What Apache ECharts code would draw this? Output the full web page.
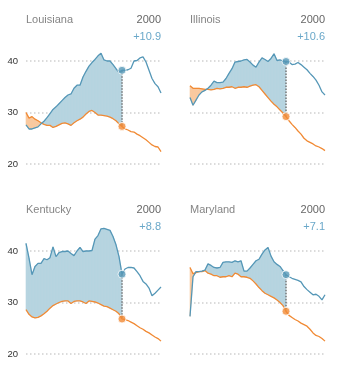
<!DOCTYPE html>
<html>
<head>
<meta charset="utf-8">
<script src="https://cdn.jsdelivr.net/npm/echarts@6/dist/echarts.min.js"></script>
<style>
html,body{margin:0;padding:0;background:#fff;}
#chart{width:346px;height:365px;}
</style>
</head>
<body>
<div id="chart"></div>
<script>
// ---- data ----
const years = [];
for (let y = 1968; y <= 2013; y++) years.push(y);
const markYear = 2000;

const states = ['Louisiana', 'Illinois', 'Kentucky', 'Maryland'];
const diffLabels = ['+10.9', '+10.6', '+8.8', '+7.1'];
const yTicks = [20, 30, 40];

const louisianaBlue = [27.6, 26.8, 26.8, 27.0, 27.2, 27.8, 28.3, 29.0, 29.8, 30.6, 31.1, 31.7, 32.3, 32.9, 33.4, 33.6, 34.7, 35.3, 35.3, 36.9, 38.0, 39.0, 39.7, 40.3, 41.0, 41.5, 40.2, 40.0, 40.0, 39.3, 38.5, 37.8, 38.2,
  38.2, 38.3, 38.6, 40.0, 40.1, 40.6, 40.8, 39.8, 38.2, 36.6, 35.6, 35.0, 33.8];
const louisianaOrange = [30.0, 28.9, 29.2, 28.7, 28.4, 28.0, 27.7, 27.5, 27.5, 27.1, 27.3, 27.6, 27.9, 28.0, 27.8, 27.5, 28.0, 28.4, 28.7, 29.1, 29.7, 30.2, 30.4, 30.0, 29.5, 29.5, 29.4, 29.3, 29.1, 28.8, 28.4, 27.8, 27.3,
  26.8, 26.6, 26.3, 26.2, 25.8, 25.5, 25.1, 24.7, 24.2, 23.7, 23.4, 23.3, 22.4];

const illinoisBlue = [32.9, 31.4, 32.4, 33.4, 34.0, 34.3, 34.7, 35.3, 36.1, 35.8, 35.8, 35.9, 36.6, 37.6, 38.5, 39.8, 39.9, 40.0, 40.2, 40.3, 39.8, 39.2, 38.8, 39.8, 40.6, 40.3, 39.9, 40.5, 41.4, 40.1, 40.2, 40.0, 39.9,
  39.8, 39.3, 39.4, 39.7, 39.3, 38.8, 38.3, 37.6, 37.0, 36.3, 35.3, 34.0, 33.4];
const illinoisOrange = [35.2, 34.7, 34.7, 34.7, 34.6, 34.5, 34.5, 34.4, 34.5, 34.7, 34.6, 34.7, 34.9, 34.9, 35.0, 34.7, 34.9, 34.9, 35.0, 34.9, 35.1, 35.3, 35.4, 35.0, 34.3, 33.6, 32.9, 32.2, 31.6, 31.1, 30.5, 29.9, 29.2,
  28.4, 27.7, 27.1, 26.4, 25.8, 25.0, 24.5, 24.2, 23.9, 23.5, 23.3, 23.0, 22.6];

const kentuckyBlue = [41.5, 38.6, 35.4, 37.0, 37.6, 37.6, 38.5, 38.3, 38.7, 40.8, 38.9, 39.7, 39.9, 39.9, 40.0, 39.5, 39.1, 40.0, 40.7, 39.9, 40.0, 40.0, 40.1, 42.3, 43.0, 44.3, 44.4, 44.2, 44.0, 42.8, 41.2, 38.9, 35.5,
  36.5, 36.8, 36.8, 36.7, 36.0, 35.2, 34.1, 33.6, 32.8, 31.3, 31.8, 32.4, 33.0];
const kentuckyOrange = [28.6, 27.7, 27.2, 27.0, 27.1, 27.4, 27.8, 28.3, 28.9, 29.4, 29.7, 30.0, 30.2, 30.3, 30.3, 29.8, 30.2, 30.3, 30.3, 30.1, 29.8, 30.3, 30.2, 30.1, 29.9, 29.6, 29.3, 29.2, 28.9, 28.6, 28.3, 27.8, 26.8,
  26.7, 26.5, 26.2, 25.9, 25.5, 25.1, 24.8, 24.4, 24.1, 23.7, 23.3, 23.0, 22.5];

const marylandBlue = [27.3, 35.0, 36.0, 36.0, 36.1, 36.3, 37.5, 37.2, 36.8, 36.7, 36.8, 37.8, 37.9, 37.9, 37.8, 38.1, 37.9, 38.1, 36.1, 36.1, 36.7, 37.4, 38.1, 38.4, 39.4, 40.2, 40.7, 39.0, 37.9, 37.4, 37.0, 36.2, 35.4,
  35.0, 34.7, 34.5, 34.3, 34.0, 33.1, 32.5, 32.0, 31.5, 31.6, 31.2, 30.5, 31.5];
const marylandOrange = [36.8, 35.6, 35.8, 36.0, 36.0, 36.2, 35.7, 35.5, 35.2, 35.2, 34.9, 35.0, 35.0, 35.2, 35.0, 35.7, 35.5, 35.0, 35.0, 34.9, 34.7, 34.2, 33.6, 32.9, 32.3, 31.8, 31.5, 31.2, 30.9, 30.5, 30.0, 29.4, 28.3,
  27.5, 27.1, 26.7, 26.4, 26.0, 25.7, 25.4, 24.8, 24.1, 23.6, 23.4, 23.0, 22.5];

const blueSeries = [louisianaBlue, illinoisBlue, kentuckyBlue, marylandBlue];
const orangeSeries = [louisianaOrange, illinoisOrange, kentuckyOrange, marylandOrange];

// ---- style ----
const BLUE = '#5597b7';
const BLUE_FILL = '#b7d4e0';
const ORANGE = '#f18a34';
const ORANGE_FILL = '#f9c9a0';
const FONT = 'Liberation Sans, Arial, sans-serif';

const panels = [
  { left: 26, top: 35.25, showY: true },
  { left: 190, top: 35.25, showY: false },
  { left: 26, top: 225.25, showY: true },
  { left: 190, top: 225.25, showY: false }
];
const PW = 135, PH = 128.75;

const chart = echarts.init(document.getElementById('chart'), null, { renderer: 'canvas' });

const grids = [], xAxes = [], yAxes = [], series = [], graphics = [];

panels.forEach((p, gi) => {
  grids.push({ left: p.left, top: p.top, width: PW, height: PH, containLabel: false });
  xAxes.push({
    gridIndex: gi, type: 'value', min: years[0], max: years[years.length - 1],
    show: false
  });
  yAxes.push({
    gridIndex: gi, type: 'value', min: 20, max: 45, interval: 10,
    axisLine: { show: false }, axisTick: { show: false },
    axisLabel: {
      show: p.showY, color: '#333', fontSize: 9.5, fontFamily: FONT, margin: 8,
      formatter: v => (yTicks.indexOf(v) >= 0 ? String(v) : '')
    },
    splitLine: {
      show: true,
      lineStyle: { color: ['#cfcfcf', '#cfcfcf', '#cfcfcf', 'rgba(0,0,0,0)'], width: 1.5, type: [1.5, 2.5] }
    }
  });

  const blue = blueSeries[gi], orange = orangeSeries[gi];
  const idx2000 = years.indexOf(markYear);

  // filled band up to 2000
  const rows = [];
  for (let i = 0; i < idx2000; i++) {
    rows.push([years[i], blue[i], orange[i], years[i + 1], blue[i + 1], orange[i + 1]]);
  }
  series.push({
    type: 'custom', xAxisIndex: gi, yAxisIndex: gi, silent: true, z: 1,
    encode: { x: [0, 3], y: [1, 2, 4, 5] },
    data: rows,
    renderItem: function (params, api) {
      const x0 = api.value(0), b0 = api.value(1), o0 = api.value(2);
      const x1 = api.value(3), b1 = api.value(4), o1 = api.value(5);
      const d0 = b0 - o0, d1 = b1 - o1;
      const mk = (pts, c) => ({
        type: 'polygon',
        shape: { points: pts.map(pt => api.coord(pt)) },
        style: { fill: c, stroke: c, lineWidth: 0.6 }
      });
      const kids = [];
      if (d0 * d1 >= 0) {
        kids.push(mk([[x0, b0], [x1, b1], [x1, o1], [x0, o0]], (d0 + d1) >= 0 ? BLUE_FILL : ORANGE_FILL));
      } else {
        const t = d0 / (d0 - d1);
        const xc = x0 + t * (x1 - x0), yc = b0 + t * (b1 - b0);
        kids.push(mk([[x0, b0], [xc, yc], [x0, o0]], d0 > 0 ? BLUE_FILL : ORANGE_FILL));
        kids.push(mk([[xc, yc], [x1, b1], [x1, o1]], d1 > 0 ? BLUE_FILL : ORANGE_FILL));
      }
      return { type: 'group', children: kids };
    }
  });

  // dotted vertical line at 2000
  series.push({
    type: 'line', xAxisIndex: gi, yAxisIndex: gi, silent: true, z: 3,
    data: [[markYear, blue[idx2000]], [markYear, orange[idx2000]]],
    symbol: 'none',
    lineStyle: { color: '#777', width: 1.5, type: [1.5, 1.5] }
  });

  series.push({
    type: 'line', xAxisIndex: gi, yAxisIndex: gi, silent: true, z: 4,
    data: years.map((y, i) => [y, orange[i]]),
    symbol: 'none', lineStyle: { color: ORANGE, width: 1.3 }
  });
  series.push({
    type: 'line', xAxisIndex: gi, yAxisIndex: gi, silent: true, z: 4,
    data: years.map((y, i) => [y, blue[i]]),
    symbol: 'none', lineStyle: { color: BLUE, width: 1.3 }
  });

  series.push({
    type: 'scatter', xAxisIndex: gi, yAxisIndex: gi, silent: true, z: 5,
    data: [[markYear, blue[idx2000]]],
    symbolSize: 8,
    itemStyle: { color: BLUE, borderColor: '#fff', borderWidth: 1 }
  });
  series.push({
    type: 'scatter', xAxisIndex: gi, yAxisIndex: gi, silent: true, z: 5,
    data: [[markYear, orange[idx2000]]],
    symbolSize: 8,
    itemStyle: { color: ORANGE, borderColor: '#fff', borderWidth: 1 }
  });

  // texts
  const titleY = p.top - 16.25;
  graphics.push({
    type: 'text', left: p.left, top: titleY - 4.5,
    style: { text: states[gi], fill: '#858585', font: '11px ' + FONT }
  });
  graphics.push({
    type: 'text', right: 346 - (p.left + PW), top: titleY - 4.5,
    style: { text: String(markYear), fill: '#666', font: '11px ' + FONT, textAlign: 'right' }
  });
  graphics.push({
    type: 'text', right: 346 - (p.left + PW), top: titleY + 12.5,
    style: { text: diffLabels[gi], fill: '#6aa8c9', font: '11px ' + FONT, textAlign: 'right' }
  });
});

chart.setOption({
  animation: false,
  backgroundColor: '#fff',
  grid: grids,
  xAxis: xAxes,
  yAxis: yAxes,
  series: series,
  graphic: graphics
});
</script>
</body>
</html>
